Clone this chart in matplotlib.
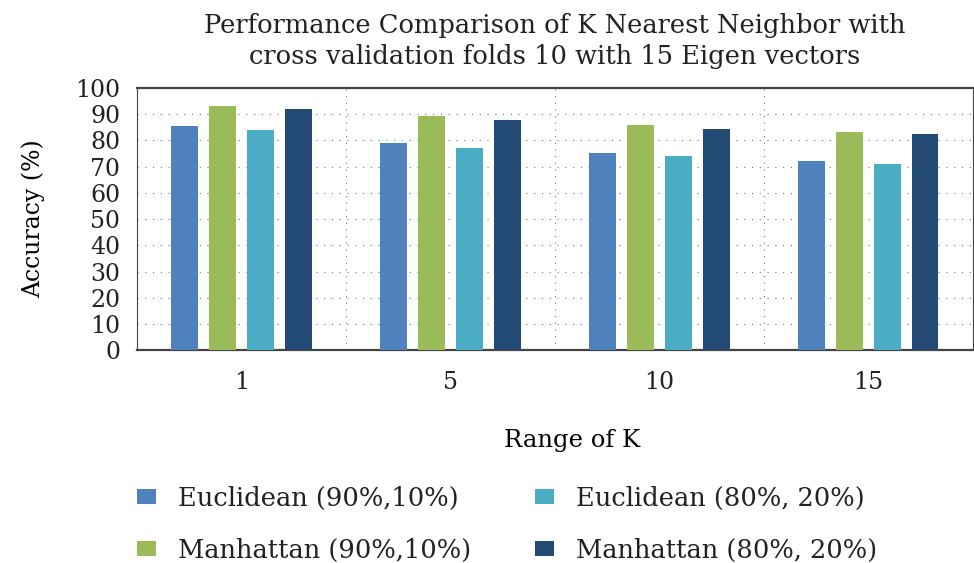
import matplotlib.pyplot as plt
import numpy as np

k_values = ["1", "5", "10", "15"]
series_names = [
    "Euclidean (90%,10%)",
    "Manhattan (90%,10%)",
    "Euclidean (80%, 20%)",
    "Manhattan (80%, 20%)",
]
euclid_90 = [85.6, 78.9, 75.2, 72.3]
manhattan_90 = [93.2, 89.4, 85.8, 83.2]
euclid_80 = [84.0, 77.2, 73.9, 71.2]
manhattan_80 = [92.0, 87.7, 84.5, 82.3]
colors = ["#4F81BD", "#9BBB59", "#4BACC6", "#234A75"]

plt.rcParams["font.family"] = ["DejaVu Serif"]
plt.rcParams["text.color"] = "#222222"

fig = plt.figure(figsize=(9.74, 5.63), dpi=100)
ax = fig.add_axes([0.1407, 0.378, 0.858, 0.4657])

x = np.arange(len(k_values))
spacing = 0.181
width = 0.129
all_series = [euclid_90, manhattan_90, euclid_80, manhattan_80]
handles = []
for i, (vals, name, c) in enumerate(zip(all_series, series_names, colors)):
    offset = (i - 1.5) * spacing
    h = ax.bar(x + offset, vals, width, color=c, label=name, zorder=3)
    handles.append(h)

ax.set_xlim(-0.5, 3.5)
ax.set_ylim(0, 100)
ax.set_yticks(range(0, 101, 10))
ax.set_xticks(x)
ax.set_xticklabels(k_values)
ax.tick_params(axis="both", length=0, labelsize=17, labelcolor="#222222")
ax.tick_params(axis="x", pad=15)
ax.tick_params(axis="y", pad=12)

# dotted grid: horizontal at each tick, vertical at group boundaries
for yv in range(10, 100, 10):
    ax.axhline(yv, color="#777777", linestyle=(0, (1, 6)), linewidth=0.8, zorder=1)
for xv in [0.5, 1.5, 2.5]:
    ax.axvline(xv, color="#777777", linestyle=(0, (1, 5)), linewidth=0.8, zorder=1)

for side in ["left", "right"]:
    ax.spines[side].set_color("#444444")
    ax.spines[side].set_linewidth(0.8)
for side in ["top", "bottom"]:
    ax.spines[side].set_color("#444444")
    ax.spines[side].set_linewidth(1.6)

ax.set_ylabel("Accuracy (%)", fontsize=17, labelpad=22)
ax.set_xlabel("Range of K", fontsize=17.5)
ax.xaxis.set_label_coords(0.521, -0.3)
ax.set_title("Performance Comparison of K Nearest Neighbor with\n"
             "cross validation folds 10 with 15 Eigen vectors",
             fontsize=18.5, pad=17, linespacing=1.3)

legend_kw = dict(frameon=False, fontsize=18.5, loc="upper left",
                 handlelength=0.75, handleheight=0.5, handletextpad=0.85,
                 labelspacing=1.05, borderpad=0, borderaxespad=0)
leg1 = fig.legend(handles=handles[:2], labels=series_names[:2],
                  bbox_to_anchor=(0.1407, 0.137), **legend_kw)
leg2 = fig.legend(handles=handles[2:], labels=series_names[2:],
                  bbox_to_anchor=(0.549, 0.137), **legend_kw)

fig.savefig("out.png", dpi=100)
